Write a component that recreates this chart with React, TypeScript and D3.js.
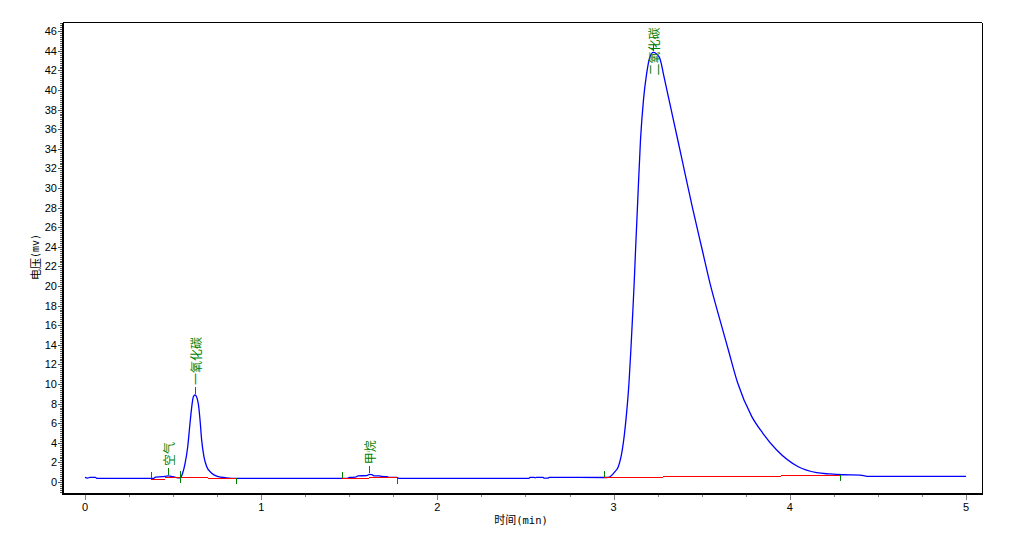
import React from "react";
import * as d3 from "d3";

// Chromatogram trace (time in min, signal in mV)
const traceTime = [
  0.0, 0.015, 0.028, 0.06, 0.066, 0.39, 0.40, 0.44, 0.473, 0.50, 0.52, 0.54,
  0.554, 0.568, 0.583, 0.596, 0.606, 0.615, 0.625, 0.643, 0.653, 0.662, 0.675, 0.691, 0.719, 0.757, 0.795, 0.83,
  1.49, 1.50, 1.535, 1.55, 1.60, 1.614, 1.628, 1.64, 1.67, 1.685, 1.715, 1.725, 1.77, 1.78,
  2.52, 2.526, 2.55, 2.555, 2.56, 2.60, 2.604, 2.63, 2.634, 2.95, 2.97,
  2.98, 3.008, 3.0267, 3.0494, 3.0721, 3.0874, 3.0982, 3.1078, 3.1169, 3.1248, 3.1356, 3.1527, 3.1697, 3.1878, 3.2066, 3.2253,
  3.2577, 3.2707, 3.2821, 3.3201, 3.3644, 3.4052, 3.4467, 3.503, 3.547, 3.598, 3.651, 3.7044, 3.7838, 3.8462, 3.9257,
  4.0482, 4.1527, 4.2281, 4.30, 4.40, 4.44, 5.0,
];
const traceMv = [
  0.47, 0.40, 0.47, 0.47, 0.38, 0.38, 0.50, 0.54, 0.62, 0.54, 0.45, 0.42,
  0.89, 1.9, 3.6, 6.0, 7.7, 8.7, 8.88, 8.0, 6.3, 4.3, 2.6, 1.56, 0.89, 0.54, 0.44, 0.38,
  0.38, 0.47, 0.49, 0.62, 0.66, 0.78, 0.76, 0.63, 0.62, 0.56, 0.55, 0.47, 0.47, 0.38,
  0.38, 0.48, 0.48, 0.42, 0.48, 0.48, 0.40, 0.40, 0.48, 0.46, 0.48,
  0.54, 1.05, 1.56, 3.27, 6.7, 10.1, 13.5, 16.9, 20.3, 23.7, 28.1, 34.9, 39.0, 41.7, 43.4, 43.85,
  43.4, 42.7, 41.7, 38.55, 34.9, 31.5, 28.07, 23.7, 20.3, 16.9, 13.5, 10.1, 6.7, 5.0, 3.27,
  1.56, 0.95, 0.82, 0.74, 0.70, 0.58, 0.58,
];

// Peak identification labels
const peakNames = ["空气", "一氧化碳", "甲烷", "二氧化碳"];
const peakTimes = [0.473, 0.625, 1.614, 3.225];
const peakMv = [0.62, 8.88, 0.78, 43.85];

// Integration baselines (red)
const baseStart = [0.373, 0.455, 0.7, 1.459, 1.614, 2.945, 3.279, 3.95];
const baseEnd = [0.455, 0.7, 0.857, 1.614, 1.769, 3.279, 3.95, 4.285];
const baseMv = [0.34, 0.48, 0.38, 0.38, 0.48, 0.48, 0.58, 0.68];

// Integration start/end marks (green), dir 1 = up, -1 = down
const markTime = [0.373, 0.541, 0.541, 0.857, 1.459, 1.769, 2.945, 4.285];
const markMv = [0.38, 0.48, 0.48, 0.38, 0.38, 0.40, 0.48, 0.68];
const markDir = [1, 1, -1, -1, 1, -1, 1, -1];

// Axis ticks
const xTicks = [0, 1, 2, 3, 4, 5];
const yTicks = d3.range(0, 47, 2);

const W = 1012;
const H = 548;
const L = 62.5, R = 982, T = 22.5, B = 493.5;

export default function App() {
  const x = d3.scaleLinear().domain([-0.1277, 5.091]).range([L, R]);
  const y = d3.scaleLinear().domain([-1.173, 46.89]).range([B, T]);

  const pts: [number, number][] = traceTime.map((t, i) => [t, traceMv[i]]);
  const line = d3
    .line<[number, number]>()
    .x((d) => x(d[0]))
    .y((d) => y(d[1]))
    .curve(d3.curveMonotoneX);

  const xMinor = d3.range(-0.0, 5.01, 0.25).filter((v) => Math.abs(v - Math.round(v)) > 1e-6);
  const yMinor = d3.range(-1.0, 46.85, 0.2);

  const numFont = "'Liberation Sans', Arial, sans-serif";
  const cjkFont = "'Noto Sans CJK SC', sans-serif";

  return (
    <svg
      width={W}
      height={H}
      style={{ position: "absolute", left: 0, top: 0, background: "#fff" }}
    >
      <rect x={0} y={0} width={W} height={H} fill="#fff" />
      {/* frame */}
      <line x1={L} x2={R} y1={T} y2={T} stroke="#000" strokeWidth={1} shapeRendering="crispEdges" />
      <line x1={R} x2={R} y1={T} y2={B} stroke="#000" strokeWidth={1} shapeRendering="crispEdges" />

      {/* y minor ticks */}
      {yMinor.map((v, i) => (
        <line key={"ym" + i} x1={60} x2={61.5} y1={Math.round(y(v)) + 0.5} y2={Math.round(y(v)) + 0.5} stroke="#555" strokeWidth={1} shapeRendering="crispEdges" />
      ))}
      {/* y major ticks */}
      {yTicks.map((v) => (
        <g key={"y" + v}>
          <line x1={58} x2={61.5} y1={Math.round(y(v)) + 0.5} y2={Math.round(y(v)) + 0.5} stroke="#555" strokeWidth={1} shapeRendering="crispEdges" />
          <text x={57} y={y(v)} textAnchor="end" dominantBaseline="central" fontFamily={numFont} fontSize={11} fill="#000">
            {v}
          </text>
        </g>
      ))}
      {/* x minor ticks */}
      {xMinor.map((v, i) => (
        <line key={"xm" + i} x1={Math.round(x(v)) + 0.5} x2={Math.round(x(v)) + 0.5} y1={494} y2={497} stroke="#808080" strokeWidth={1} shapeRendering="crispEdges" />
      ))}
      {/* x major ticks */}
      {xTicks.map((v) => (
        <g key={"x" + v}>
          <line x1={Math.round(x(v)) + 0.5} x2={Math.round(x(v)) + 0.5} y1={494} y2={499.5} stroke="#808080" strokeWidth={1} shapeRendering="crispEdges" />
          <text x={x(v)} y={511} textAnchor="middle" fontFamily={numFont} fontSize={11} fill="#000">
            {v}
          </text>
        </g>
      ))}

      {/* axes lines (thick) */}
      <line x1={L} x2={L} y1={T} y2={B + 1} stroke="#000" strokeWidth={2} shapeRendering="crispEdges" />
      <line x1={L - 1} x2={R + 0.5} y1={B} y2={B} stroke="#000" strokeWidth={2} shapeRendering="crispEdges" />

      {/* axis titles */}
      <text x={521} y={524} textAnchor="middle" fill="#000">
        <tspan fontFamily={cjkFont} fontSize={11}>时间</tspan>
        <tspan fontFamily="'DejaVu Sans Mono', monospace" fontSize={10.5}>(min)</tspan>
      </text>
      <text transform={`translate(35,257) rotate(-90)`} textAnchor="middle" dominantBaseline="central" fill="#000">
        <tspan fontFamily={cjkFont} fontSize={11}>电压</tspan>
        <tspan fontFamily="'DejaVu Sans Mono', monospace" fontSize={10}>(mv)</tspan>
      </text>

      {/* trace */}
      <path d={line(pts) || ""} fill="none" stroke="#0000ff" strokeWidth={1.3} />

      {/* integration baselines */}
      {baseStart.map((s, i) => (
        <line key={"b" + i} x1={x(s)} x2={x(baseEnd[i])} y1={Math.round(y(baseMv[i])) + 0.5} y2={Math.round(y(baseMv[i])) + 0.5} stroke="#ff0000" strokeWidth={1.2} shapeRendering="crispEdges" />
      ))}

      {/* integration marks */}
      {markTime.map((t, i) => {
        const yy = y(markMv[i]);
        return (
          <line key={"m" + i} x1={Math.round(x(t)) + 0.5} x2={Math.round(x(t)) + 0.5} y1={yy} y2={yy - 6 * markDir[i]} stroke="#008000" strokeWidth={1} shapeRendering="crispEdges" />
        );
      })}

      {/* peak labels */}
      {peakNames.map((n, i) => {
        const px = x(peakTimes[i]);
        const py = y(peakMv[i]);
        const len = n.length * 12;
        const bottom = Math.max(py - 10, T + 5 + len);
        return (
          <g key={"p" + i}>
            <line x1={Math.round(px) + 0.5} x2={Math.round(px) + 0.5} y1={py - 1} y2={py - 8} stroke="#008000" strokeWidth={1} shapeRendering="crispEdges" />
            <text transform={`translate(${px},${bottom}) rotate(-90)`} textAnchor="start" dominantBaseline="central" fontFamily={cjkFont} fontSize={12} fill="#008000">
              {n}
            </text>
          </g>
        );
      })}
    </svg>
  );
}
